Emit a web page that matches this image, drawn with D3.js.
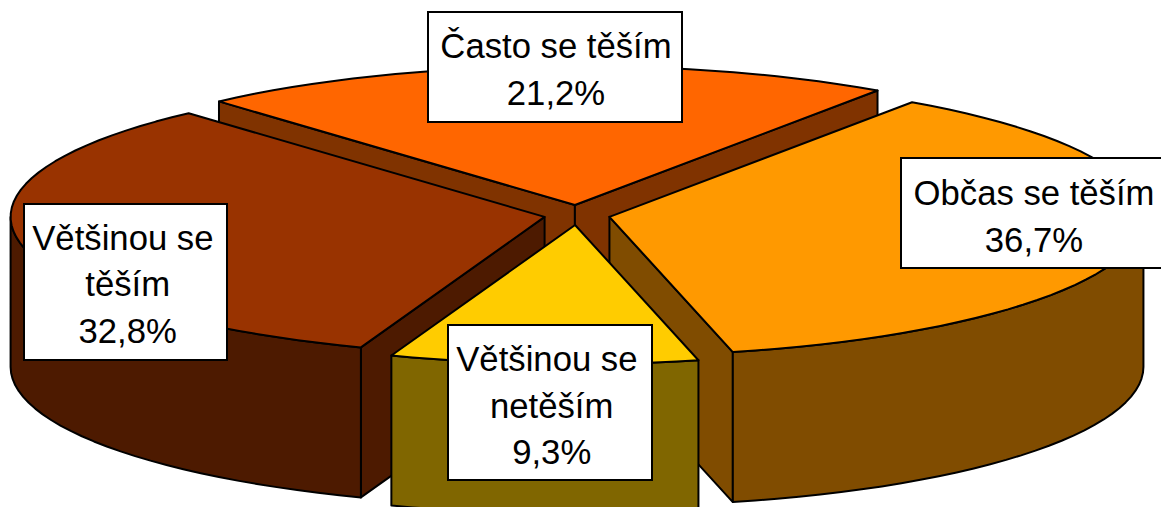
<!DOCTYPE html>
<html>
<head>
<meta charset="utf-8">
<script src="https://cdn.jsdelivr.net/npm/d3@7/dist/d3.min.js"></script>
<style>
html,body{margin:0;padding:0;background:#fff;overflow:hidden}
svg{display:block}
text{font-family:"Liberation Sans",Arial,sans-serif;font-size:34.7px;fill:#000;text-anchor:middle;white-space:pre}
</style>
</head>
<body>
<svg id="chart" width="1161" height="507"></svg>
<script>
const categories = ["Často se těším", "Občas se těším", "Většinou se netěším", "Většinou se těším"];
const values = [21.2, 36.7, 9.3, 32.8];
const percentLabels = ["21,2%", "36,7%", "9,3%", "32,8%"];
const labelLines = [["Často se těším"], ["Občas se těším"], ["Většinou se ", "netěším"], ["Většinou se ", "těším"]];
const topColors = ["#FF6600", "#FF9900", "#FFCC00", "#993300"];
const wallColors = ["#803300", "#804C00", "#806600", "#4D1A00"];

// Layout of the projected pie
const W = 1161, H = 507;
const cx = 577, cy = 215, rx = 534, ry = 139, depth = 150;
const explodeX = 33, explodeY = 10;
const startDeg = -41.8;
const drawOrder = [0, 1, 3, 2];
const labelBoxes = [
  {x: 428, y: 12, w: 254, h: 110, tx: 556, base: 58},
  {x: 901, y: 158, w: 270, h: 110, tx: 1034, base: 205},
  {x: 448, y: 325, w: 204, h: 155, tx: 551.7, base: 371},
  {x: 24, y: 204, w: 203, h: 156, tx: 127.7, base: 249.5}
];
const lineGap = 46.5;

const svg = d3.select("#chart");
const pie = d3.pie().sort(null)
  .startAngle(startDeg * Math.PI / 180)
  .endAngle(startDeg * Math.PI / 180 + 2 * Math.PI);
const arcs = pie(values);

const sx = d3.scaleLinear().domain([-1, 1]).range([-rx, rx]);
const sy = d3.scaleLinear().domain([-1, 1]).range([-ry, ry]);
const line = d3.line();

function tip(a) {
  const m = (a.startAngle + a.endAngle) / 2;
  return [cx + explodeX * Math.sin(m), cy - explodeY * Math.cos(m)];
}
function rim(a, t) {
  const p = tip(a);
  return [p[0] + sx(Math.sin(t)), p[1] + sy(-Math.cos(t))];
}
function rimPoints(a, t0, t1) {
  const n = Math.max(2, Math.ceil((t1 - t0) / (Math.PI / 72)));
  return d3.range(n + 1).map(i => rim(a, t0 + (t1 - t0) * i / n));
}
const down = p => [p[0], p[1] + depth];
const style = s => s.attr("stroke", "#000").attr("stroke-width", 2).attr("stroke-linejoin", "round");

drawOrder.forEach(i => {
  const a = arcs[i], p = tip(a), g = svg.append("g");
  const wall = pts => style(g.append("path").attr("d", line(pts) + "Z").attr("fill", wallColors[i]));
  // radial walls facing the viewer
  if (Math.sin(a.startAngle) < 0) {
    const e = rim(a, a.startAngle);
    wall([p, e, down(e), down(p)]);
  }
  if (Math.sin(a.endAngle) > 0) {
    const e = rim(a, a.endAngle);
    wall([p, e, down(e), down(p)]);
  }
  // outer wall, front half only
  const t0 = Math.max(a.startAngle, Math.PI / 2), t1 = Math.min(a.endAngle, 1.5 * Math.PI);
  if (t1 > t0) {
    const r = rimPoints(a, t0, t1);
    wall(r.concat(r.slice().reverse().map(down)));
  }
  // top face
  style(g.append("path")
    .attr("d", line([p].concat(rimPoints(a, a.startAngle, a.endAngle))) + "Z")
    .attr("fill", topColors[i]));
});

// Data labels
categories.forEach((c, i) => {
  const b = labelBoxes[i];
  const g = svg.append("g").attr("class", "label");
  g.append("rect").attr("x", b.x).attr("y", b.y).attr("width", b.w).attr("height", b.h)
    .attr("fill", "#fff").attr("stroke", "#000").attr("stroke-width", 2);
  labelLines[i].concat([percentLabels[i]]).forEach((t, k) => {
    g.append("text").attr("x", b.tx).attr("y", b.base + k * lineGap).text(t);
  });
});
</script>
</body>
</html>
